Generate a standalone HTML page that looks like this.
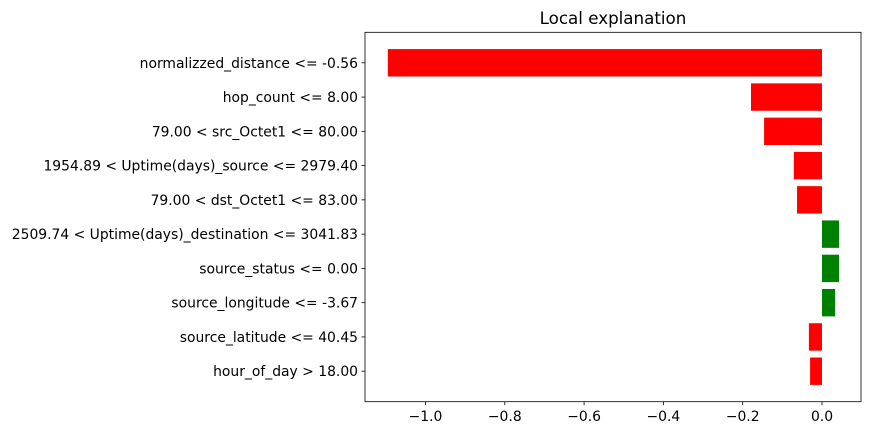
<!DOCTYPE html>
<html><head><meta charset="utf-8"><style>
html,body{margin:0;padding:0;background:#fff;}
svg text{font-family:"DejaVu Sans","Liberation Sans",sans-serif;fill:#000;}
</style></head><body>
<svg id="chart" width="871" height="435" xmlns="http://www.w3.org/2000/svg"></svg>
<script>
const categories = ["normalizzed_distance <= -0.56","hop_count <= 8.00","79.00 < src_Octet1 <= 80.00","1954.89 < Uptime(days)_source <= 2979.40","79.00 < dst_Octet1 <= 83.00","2509.74 < Uptime(days)_destination <= 3041.83","source_status <= 0.00","source_longitude <= -3.67","source_latitude <= 40.45","hour_of_day > 18.00"];
const values = [-1.095,-0.179,-0.146,-0.071,-0.063,0.043,0.043,0.033,-0.033,-0.030];
const xTicks = [-1.0,-0.8,-0.6,-0.4,-0.2,0.0];
const xTickLabels = ["\u22121.0","\u22120.8","\u22120.6","\u22120.4","\u22120.2","0.0"];

const svg = document.getElementById('chart');
const NS = "http://www.w3.org/2000/svg";
const L=365, R=861, T=32.3, B=401.7;
const n = categories.length;
const xmin=-1.1526, xmax=0.0984;
const x = v => L + (v - xmin) / (xmax - xmin) * (R - L);
const ymin=-0.4-0.49, ymax=(n-1)+0.4+0.49;
const y = i => B - ((n-1-i) - ymin) / (ymax - ymin) * (B - T);
const step = (B-T)/(ymax-ymin);
function el(tag, attrs){const e=document.createElementNS(NS,tag);for(const k in attrs)e.setAttribute(k,attrs[k]);svg.appendChild(e);return e;}

values.forEach((v,i)=>{
  const r = el('rect',{x:Math.min(x(0),x(v)),y:y(i)-0.4*step,width:Math.abs(x(v)-x(0)),height:0.8*step,fill:v<0?'#ff0000':'#008000'});
  
  
  const tk = el('line',{x1:L-3.5,x2:L,y1:y(i),y2:y(i),stroke:'#000','stroke-width':0.8});
  
  
  const t = el('text',{x:L-7,y:y(i)+5,'text-anchor':'end','font-size':'13.9'});
  t.textContent = categories[i];
  
  
});
xTicks.forEach((v,i)=>{
  const tk = el('line',{x1:x(v),x2:x(v),y1:B,y2:B+3.5,stroke:'#000','stroke-width':0.8});
  
  
  const t = el('text',{x:x(v),y:B+19.5,'text-anchor':'middle','font-size':'13.9'});
  t.textContent = xTickLabels[i];
  
  
});
const frame = el('rect',{x:L,y:T,width:R-L,height:B-T,fill:'none',stroke:'#000','stroke-width':0.8});


const title = el('text',{x:(L+R)/2,y:24,'text-anchor':'middle','font-size':'16.7'});
title.textContent = "Local explanation";


</script>
</body></html>
